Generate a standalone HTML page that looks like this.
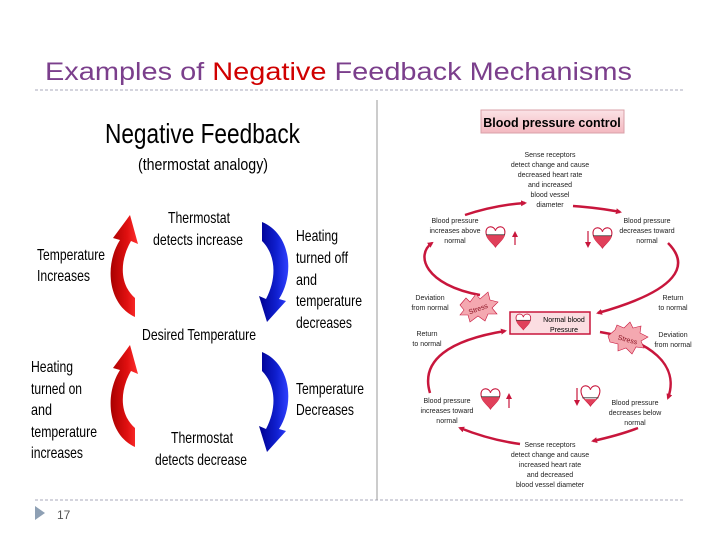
<!DOCTYPE html>
<html><head><style>
html,body{margin:0;padding:0;background:#fff}
svg{display:block}
text{font-family:"Liberation Sans",sans-serif}
</style></head><body>
<svg width="720" height="540" viewBox="0 0 720 540" xmlns="http://www.w3.org/2000/svg">
<defs>
<linearGradient id="rg" x1="0" y1="0" x2="1" y2="0"><stop offset="0" stop-color="#a80000"/><stop offset="0.6" stop-color="#e01010"/><stop offset="1" stop-color="#ff3030"/></linearGradient>
<linearGradient id="bg" x1="0" y1="0" x2="1" y2="0"><stop offset="0" stop-color="#000090"/><stop offset="0.6" stop-color="#1020d0"/><stop offset="1" stop-color="#3040ff"/></linearGradient>
<linearGradient id="pk" x1="0" y1="0" x2="0" y2="1"><stop offset="0" stop-color="#fbe3e6"/><stop offset="1" stop-color="#f3b8c0"/></linearGradient>
<marker id="ah" markerWidth="6" markerHeight="6" refX="4" refY="3" orient="auto" markerUnits="userSpaceOnUse"><path d="M0,0 L6,3 L0,6 Z" fill="#c8163c"/></marker>
<g id="heart"><path d="M0,3 C0,-2 6,-2 7,2 C8,-2 14,-2 14,3 C14,8 9,11 7,14 C5,11 0,8 0,3 Z" fill="#fff" stroke="#c8163c" stroke-width="0.8"/></g>
<g id="hfull"><use href="#heart"/><path d="M0,5 L14,5 C13,9 9,11 7,14 C5,11 1,9 0,5 Z" fill="#e0405a"/><line x1="0" y1="5" x2="14" y2="5" stroke="#333" stroke-width="0.6"/></g>
<g id="hlow"><use href="#heart"/><path d="M2,9 L12,9 C10,11 8,12 7,14 C6,12 4,11 2,9 Z" fill="#e0405a"/><line x1="1" y1="8" x2="13" y2="8" stroke="#333" stroke-width="0.6"/></g>
</defs>
<text x="45" y="80" font-size="25" textLength="587" lengthAdjust="spacingAndGlyphs" fill="#7b3f8c">Examples of <tspan fill="#d00000">Negative</tspan> Feedback Mechanisms</text>
<line x1="35" y1="90" x2="685" y2="90" stroke="#aab" stroke-dasharray="3,2" stroke-width="1"/>
<line x1="35" y1="500" x2="685" y2="500" stroke="#aab" stroke-dasharray="3,2" stroke-width="1"/>
<line x1="377" y1="100" x2="377" y2="500" stroke="#999" stroke-width="1"/>
<path d="M35,506 L45,513 L35,520 Z" fill="#8ea0b4"/>
<text x="57" y="519" font-size="12" fill="#555">17</text>

<text x="105" y="143" font-size="28" textLength="195" lengthAdjust="spacingAndGlyphs" fill="#000">Negative Feedback</text>
<text x="138" y="170" font-size="17" textLength="130" lengthAdjust="spacingAndGlyphs" fill="#000">(thermostat analogy)</text>

<g id="ra"><path d="M135,317 C108,305 104,265 120,240 L113,238 L130,215 L138,244 L131,241 C119,262 120,285 135,298 Z" fill="url(#rg)"/></g>
<use href="#ra" y="130"/>
<g id="ba"><path d="M262,222 C291,234 295,274 279,299 L286,301 L267,322 L259,296 L266,299 C277,278 276,255 262,241 Z" fill="url(#bg)"/></g>
<use href="#ba" y="130"/>

<g font-size="16" fill="#000">
<text x="37" y="260" textLength="68" lengthAdjust="spacingAndGlyphs">Temperature</text>
<text x="37" y="281" textLength="53" lengthAdjust="spacingAndGlyphs">Increases</text>
<text x="168" y="223" textLength="62" lengthAdjust="spacingAndGlyphs">Thermostat</text>
<text x="153" y="245" textLength="90" lengthAdjust="spacingAndGlyphs">detects increase</text>
<text x="296" y="241" textLength="42" lengthAdjust="spacingAndGlyphs">Heating</text>
<text x="296" y="263" textLength="52" lengthAdjust="spacingAndGlyphs">turned off</text>
<text x="296" y="285" textLength="21" lengthAdjust="spacingAndGlyphs">and</text>
<text x="296" y="306" textLength="66" lengthAdjust="spacingAndGlyphs">temperature</text>
<text x="296" y="328" textLength="56" lengthAdjust="spacingAndGlyphs">decreases</text>
<text x="142" y="340" textLength="114" lengthAdjust="spacingAndGlyphs">Desired Temperature</text>
<text x="31" y="372" textLength="42" lengthAdjust="spacingAndGlyphs">Heating</text>
<text x="31" y="394" textLength="51" lengthAdjust="spacingAndGlyphs">turned on</text>
<text x="31" y="415" textLength="21" lengthAdjust="spacingAndGlyphs">and</text>
<text x="31" y="437" textLength="66" lengthAdjust="spacingAndGlyphs">temperature</text>
<text x="31" y="458" textLength="52" lengthAdjust="spacingAndGlyphs">increases</text>
<text x="296" y="394" textLength="68" lengthAdjust="spacingAndGlyphs">Temperature</text>
<text x="296" y="415" textLength="58" lengthAdjust="spacingAndGlyphs">Decreases</text>
<text x="171" y="443" textLength="62" lengthAdjust="spacingAndGlyphs">Thermostat</text>
<text x="155" y="465" textLength="92" lengthAdjust="spacingAndGlyphs">detects decrease</text>
</g>

<rect x="481" y="110" width="143" height="23" fill="url(#pk)" stroke="#d9a0a8"/>
<text x="552" y="127" font-size="12.5" font-weight="bold" text-anchor="middle" fill="#000">Blood pressure control</text>

<g fill="none" stroke="#c8163c" stroke-width="2.5" marker-end="url(#ah)">
<path d="M465,215 Q495,205 525,203"/>
<path d="M573,206 Q600,208 620,212"/>
<path d="M480,295 C425,285 415,255 432,243"/>
<path d="M668,243 C690,265 680,290 598,313"/>
<path d="M430,393 C420,360 450,340 505,331"/>
<path d="M600,332 C650,340 680,365 668,398"/>
<path d="M520,444 Q490,440 460,428"/>
<path d="M638,428 Q620,435 593,441"/>
</g>

<g font-size="7" fill="#222" text-anchor="middle">
<text x="550" y="157">Sense receptors</text>
<text x="550" y="167">detect change and cause</text>
<text x="550" y="177">decreased heart rate</text>
<text x="550" y="187">and increased</text>
<text x="550" y="197">blood vessel</text>
<text x="550" y="207">diameter</text>
<text x="455" y="223">Blood pressure</text>
<text x="455" y="233">increases above</text>
<text x="455" y="243">normal</text>
<text x="647" y="223">Blood pressure</text>
<text x="647" y="233">decreases toward</text>
<text x="647" y="243">normal</text>
<text x="430" y="300">Deviation</text>
<text x="430" y="310">from normal</text>
<text x="673" y="300">Return</text>
<text x="673" y="310">to normal</text>
<text x="427" y="336">Return</text>
<text x="427" y="346">to normal</text>
<text x="673" y="337">Deviation</text>
<text x="673" y="347">from normal</text>
<text x="447" y="403">Blood pressure</text>
<text x="447" y="413">increases toward</text>
<text x="447" y="423">normal</text>
<text x="635" y="405">Blood pressure</text>
<text x="635" y="415">decreases below</text>
<text x="635" y="425">normal</text>
<text x="550" y="447">Sense receptors</text>
<text x="550" y="457">detect change and cause</text>
<text x="550" y="467">increased heart rate</text>
<text x="550" y="477">and decreased</text>
<text x="550" y="487">blood vessel diameter</text>
</g>

<rect x="510" y="312" width="80" height="22" fill="#fbdde1" stroke="#c8163c" stroke-width="1.5"/>
<text x="564" y="322" font-size="7" text-anchor="middle">Normal blood</text>
<text x="564" y="332" font-size="7" text-anchor="middle">Pressure</text>
<use href="#hfull" transform="translate(516,315) scale(1.05)"/>

<path d="M460,305 L466,298 L470,302 L476,294 L480,299 L488,292 L490,300 L498,302 L492,308 L497,314 L488,314 L485,321 L478,316 L470,322 L468,315 L460,315 L464,310 Z" fill="#f4a8b0" stroke="#c8163c" stroke-width="0.6"/>
<text x="479" y="311" font-size="7" fill="#8a1020" transform="rotate(-20 479 311)" text-anchor="middle">Stress</text>
<path d="M608,336 L615,330 L617,325 L624,328 L630,322 L633,328 L641,326 L640,333 L648,337 L641,341 L644,348 L636,347 L632,354 L626,348 L618,351 L618,344 L610,342 Z" fill="#f4a8b0" stroke="#c8163c" stroke-width="0.6"/>
<text x="627" y="342" font-size="7" fill="#8a1020" transform="rotate(15 627 342)" text-anchor="middle">Stress</text>

<use href="#hfull" transform="translate(486,228) scale(1.35)"/>
<line x1="515" y1="245" x2="515" y2="233" stroke="#c8163c" stroke-width="1.2" marker-end="url(#ah)"/>
<use href="#hfull" transform="translate(593,229) scale(1.35)"/>
<line x1="588" y1="231" x2="588" y2="246" stroke="#c8163c" stroke-width="1.2" marker-end="url(#ah)"/>
<use href="#hfull" transform="translate(481,390) scale(1.35)"/>
<line x1="509" y1="408" x2="509" y2="395" stroke="#c8163c" stroke-width="1.2" marker-end="url(#ah)"/>
<use href="#hlow" transform="translate(581,387) scale(1.35)"/>
<line x1="577" y1="388" x2="577" y2="404" stroke="#c8163c" stroke-width="1.2" marker-end="url(#ah)"/>
</svg>
</body></html>
